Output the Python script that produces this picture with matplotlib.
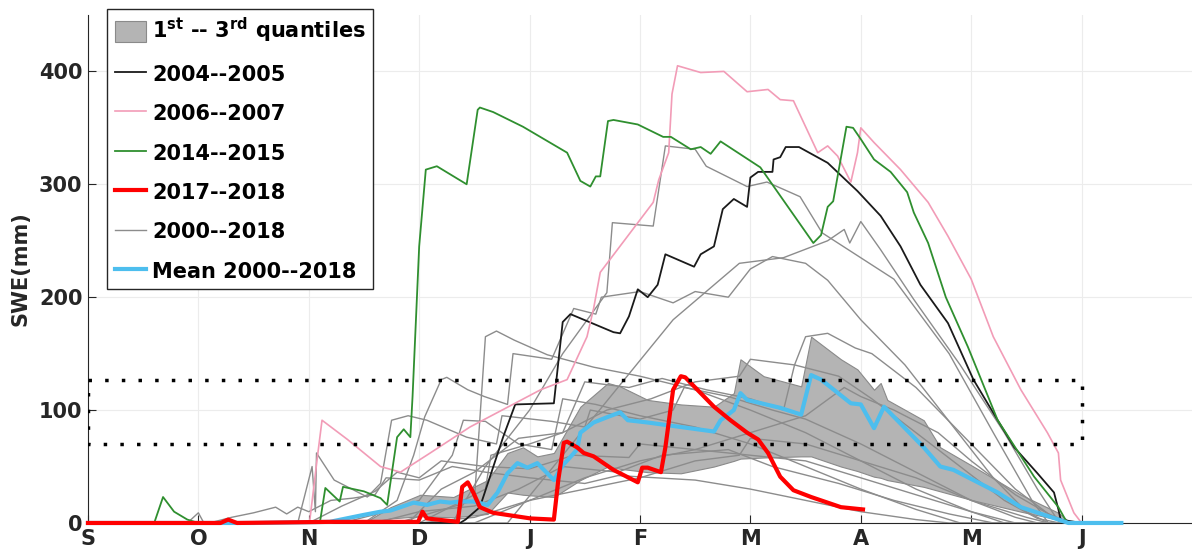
#!/usr/bin/env python3
# -*- coding: utf-8 -*-

import matplotlib
matplotlib.use('Agg')
import matplotlib.pyplot as plt
from matplotlib.patches import Patch
from matplotlib.lines import Line2D

# x axis : months from 1 September (0 = S, 1 = O, ...)
month_lbl = ['S', 'O', 'N', 'D', 'J', 'F', 'M', 'A', 'M', 'J']
swe_ticks = [0, 100, 200, 300, 400]

# 2004--2005
y0405_x = [0, 3.37, 3.42, 3.55, 3.76, 3.87, 4.22, 4.30, 4.37, 4.76, 4.82, 4.90, 4.98, 5.07, 5.16, 5.23, 5.49, 5.55,
		   5.67, 5.75, 5.85, 5.97, 6.00, 6.07, 6.20, 6.21, 6.27, 6.32, 6.44, 6.70, 6.97, 7.18, 7.36, 7.54, 7.79, 8.02,
		   8.24, 8.39, 8.60, 8.75, 8.79, 8.81, 9.0]
y0405_v = [0, 0, 3, 14, 76, 105, 106, 178, 185, 169, 168, 183, 207, 200, 211, 238, 227, 238,
		   245, 278, 287, 280, 306, 311, 311, 322, 324, 333, 333, 319, 294, 272, 245, 211, 177, 127,
		   91, 67, 44, 27, 12, 3, 0]

# 2006--2007
y0607_x = [0, 2.0, 2.01, 2.08, 2.12, 2.35, 2.65, 2.83, 3.10, 3.46, 4.10, 4.34, 4.52, 4.58, 4.64, 5.12, 5.17, 5.26,
		   5.29, 5.34, 5.55, 5.76, 5.97, 6.16, 6.27, 6.39, 6.61, 6.70, 6.79, 6.91, 6.97, 7.00, 7.12, 7.36, 7.61, 7.79,
		   8.00, 8.20, 8.45, 8.69, 8.79, 8.81, 8.93, 9.0]
y0607_v = [0, 0, 3, 60, 91, 74, 50, 45, 62, 85, 118, 127, 165, 190, 222, 284, 304, 328,
		   380, 405, 399, 400, 382, 384, 375, 374, 328, 334, 325, 302, 328, 350, 337, 313, 284, 254,
		   216, 165, 118, 80, 62, 38, 9, 0]

# 2014--2015
y1415_x = [0, 0.6, 0.68, 0.78, 0.9, 1.0, 2.1, 2.15, 2.28, 2.31, 2.5, 2.65, 2.71, 2.80, 2.86, 2.92, 2.94, 3.0, 3.06,
		   3.16, 3.43, 3.53, 3.55, 3.67, 3.94, 4.34, 4.46, 4.55, 4.60, 4.64, 4.71, 4.76, 4.98, 5.21, 5.28, 5.46, 5.55,
		   5.64, 5.73, 6.09, 6.57, 6.64, 6.70, 6.75, 6.87, 6.93, 7.00, 7.12, 7.27, 7.42, 7.48, 7.61, 7.77, 7.97, 8.24,
		   8.57, 8.79, 8.87, 9.0]
y1415_v = [0, 0, 23, 10, 3, 0, 0, 31, 19, 32, 28, 22, 16, 76, 83, 76, 112, 245, 313,
		   316, 300, 366, 368, 364, 351, 328, 303, 298, 307, 307, 356, 357, 353, 342, 342, 331, 333,
		   327, 338, 315, 248, 255, 280, 285, 351, 350, 340, 322, 311, 293, 275, 248, 200, 156, 91,
		   41, 14, 0, 0]

# 2017--2018
y1718_x = [0, 1.2, 1.27, 1.35, 2.2, 2.99, 3.03, 3.07, 3.35, 3.39, 3.44, 3.49, 3.55, 3.67, 4.01, 4.22, 4.26, 4.31,
		   4.34, 4.43, 4.49, 4.58, 4.76, 4.98, 5.02, 5.07, 5.19, 5.23, 5.30, 5.37, 5.41, 5.67, 5.82, 5.97, 6.07, 6.16,
		   6.27, 6.39, 6.55, 6.82, 7.02]
y1718_v = [0, 0, 3, 0, 1, 1, 10, 4, 1, 32, 36, 27, 14, 9, 4, 3, 38, 71,
		   72, 67, 62, 59, 47, 36, 49, 49, 45, 67, 118, 130, 129, 103, 91, 80, 74, 62,
		   41, 29, 23, 14, 12]

# mean 2000--2018
mean_x = [0, 1.5, 2.19, 2.49, 2.65, 2.74, 2.95, 3.07, 3.19, 3.28, 3.37, 3.49, 3.62, 3.71, 3.80, 3.89, 3.98, 4.07,
		  4.22, 4.30, 4.43, 4.46, 4.58, 4.71, 4.82, 4.89, 5.07, 5.37, 5.67, 5.73, 5.85, 5.91, 5.97, 6.27, 6.46, 6.55,
		  6.64, 6.91, 7.00, 7.12, 7.21, 7.33, 7.57, 7.72, 7.84, 8.02, 8.24, 8.45, 8.79, 8.88, 9.36]
mean_v = [0, 0, 1, 7, 10, 11, 18, 16, 19, 18, 19, 19, 16, 27, 44, 53, 49, 53,
		  38, 51, 65, 80, 89, 94, 98, 91, 89, 85, 81, 91, 100, 115, 109, 102, 96, 131,
		  127, 106, 105, 84, 103, 91, 67, 50, 47, 38, 27, 14, 3, 0, 0]

# 1st -- 3rd quantiles
q_x = [2.5, 2.74, 3.01, 3.31, 3.62, 3.80, 3.94, 4.07, 4.22, 4.46, 4.71, 4.82, 5.07, 5.37, 5.67, 5.85, 5.91, 6.12,
	   6.46, 6.55, 6.82, 6.97, 7.12, 7.18, 7.24, 7.57, 7.72, 8.02, 8.45, 8.79, 8.9]
q_lo = [0, 4, 6, 5, 8, 27, 25, 24, 23, 38, 50, 48, 45, 44, 50, 55, 57, 58,
		59, 59, 50, 46, 41, 40, 38, 32, 28, 20, 10, 3, 0]
q_hi = [0, 14, 25, 23, 38, 62, 67, 59, 62, 103, 124, 121, 109, 105, 103, 115, 145, 130,
		121, 165, 145, 136, 118, 124, 109, 91, 67, 50, 25, 9, 0]

# other years 2000--2018 (gray)
gray_x = [
	[0, 3.3, 3.6, 4.0, 4.3, 4.7, 4.75, 5.12, 5.23, 5.5, 5.6, 5.97, 6.15, 6.45, 6.65, 7.3, 7.8, 8.2, 8.55, 8.7, 9.0],
	[0, 3.8, 4.3, 4.8, 5.3, 5.9, 6.3, 6.7, 6.85, 6.9, 7.0, 7.18, 7.48, 7.9, 8.3, 8.6, 8.8, 9.0],
	[0, 2.8, 3.5, 3.6, 3.7, 3.86, 4.16, 4.58, 5.0, 5.5, 6.0, 6.5, 7.0, 7.5, 8.0, 8.3, 9.0],
	[0, 2.5, 2.8, 2.95, 3.05, 3.2, 3.25, 3.44, 3.59, 3.8, 3.85, 4.2, 4.4, 4.6, 4.65, 5.0, 5.3, 5.5, 5.8, 6.0, 6.2,
	 6.5, 6.7, 7.0, 7.4, 7.8, 8.2, 8.5, 8.7, 9.0],
	[0, 1.9, 2.03, 2.06, 2.07, 2.23, 2.53, 2.65, 2.75, 2.9, 3.07, 3.43, 3.7, 3.75, 4.2, 4.5, 4.55, 5.0, 5.3, 5.4,
	 5.8, 6.2, 6.5, 7.0, 7.5, 8.0, 8.4, 8.6, 9.0],
	[0, 3.0, 3.3, 3.6, 3.65, 4.0, 4.3, 4.7, 5.1, 5.5, 5.9, 6.0, 6.4, 6.5, 6.7, 6.95, 7.1, 7.5, 7.8, 8.1, 8.4, 8.7,
	 8.85, 9.0],
	[0, 3.0, 3.5, 4.0, 4.5, 5.0, 5.5, 5.9, 6.0, 6.5, 7.0, 7.5, 8.0, 8.5, 8.7, 9.0],
	[0, 2.6, 3.0, 3.5, 3.9, 4.3, 4.8, 5.2, 5.8, 6.2, 6.8, 7.3, 7.8, 8.2, 9.0],
	[0, 0.9, 1.0, 1.05, 1.1, 1.3, 1.5, 1.7, 1.8, 1.9, 2.0, 2.2, 2.4, 2.6, 2.7, 3.0, 3.3, 3.6, 4.0, 4.5, 4.8, 5.5,
	 6.0, 6.5, 7.0, 7.5, 7.8, 9.0],
	[0, 2.3, 2.7, 3.0, 3.3, 3.4, 3.6, 3.9, 4.2, 4.3, 4.6, 5.0, 5.5, 6.0, 6.5, 7.0, 7.5, 7.9, 9.0],
	[0, 3.5, 4.0, 4.5, 5.0, 5.5, 6.0, 6.5, 6.85, 7.0, 7.3, 7.7, 8.0, 8.4, 8.7, 8.9, 9.0],
	[0, 2.9, 3.2, 3.5, 3.9, 4.3, 4.5, 4.9, 5.2, 5.6, 6.0, 6.3, 6.4, 6.8, 7.1, 7.5, 7.9, 8.3, 8.6, 8.8, 9.0],
	[0, 2.0, 2.3, 2.6, 2.8, 3.0, 3.2, 3.6, 4.0, 4.4, 4.9, 5.0, 5.5, 6.0, 6.5, 7.0, 7.5, 8.0, 8.4, 9.0],
]
gray_v = [
	[0, 0, 50, 100, 150, 204, 266, 263, 334, 331, 316, 298, 302, 289, 257, 216, 150, 80, 20, 0, 0],
	[0, 0, 60, 120, 180, 230, 235, 250, 260, 248, 267, 242, 198, 140, 80, 30, 0, 0],
	[0, 0, 20, 165, 170, 162, 149, 138, 130, 118, 100, 80, 55, 30, 10, 0, 0],
	[0, 0, 20, 60, 94, 127, 129, 118, 112, 105, 150, 145, 190, 185, 200, 205, 195, 205, 200, 225, 236,
	 230, 215, 180, 140, 90, 40, 10, 0, 0],
	[0, 0, 50, 10, 62, 38, 23, 35, 91, 95, 91, 76, 70, 95, 90, 85, 100, 92, 100, 120,
	 112, 100, 92, 70, 45, 20, 5, 0, 0],
	[0, 0, 15, 30, 60, 70, 80, 100, 110, 125, 130, 145, 140, 165, 168, 155, 150, 120, 90, 60, 30, 8,
	 0, 0],
	[0, 0, 5, 20, 30, 40, 55, 60, 75, 70, 55, 40, 20, 5, 0, 0],
	[0, 0, 10, 15, 30, 50, 45, 60, 65, 50, 35, 20, 8, 0, 0],
	[0, 0, 9, 0, 0, 5, 9, 14, 8, 14, 10, 20, 22, 25, 40, 38, 50, 45, 40, 35, 42, 38,
	 30, 20, 10, 3, 0, 0],
	[0, 0, 10, 20, 60, 91, 90, 70, 65, 110, 105, 95, 85, 70, 50, 30, 12, 0, 0],
	[0, 0, 20, 40, 55, 65, 80, 95, 120, 112, 100, 80, 55, 25, 8, 0, 0],
	[0, 0, 30, 45, 75, 80, 125, 120, 128, 118, 110, 100, 140, 130, 110, 80, 50, 20, 4, 0, 0],
	[0, 0, 15, 28, 45, 40, 55, 50, 48, 60, 58, 70, 65, 60, 55, 40, 25, 10, 0, 0],
]

# seuil (dotted box)
box_x = [0, 9, 9, 0, 0]
box_v = [127, 127, 70, 70, 127]

C_GRAY = '#8c8c8c'
C_PINK = '#f29cb7'
C_GREEN = '#2f8f2f'
C_BLACK = '#1a1a1a'
C_RED = '#ff0000'
C_MEAN = '#4dbeee'


def main():
	plt.rcParams['font.family'] = ['DejaVu Sans']
	plt.rcParams['font.weight'] = 'bold'

	fig = plt.figure(figsize=(11.92, 5.56), dpi=100)
	ax1 = fig.add_axes([0.0738, 0.0594, 0.9262, 0.9137])

	ax1.fill_between(q_x, q_lo, q_hi, facecolor='#b4b4b4', edgecolor='#8a8a8a', lw=0.8, zorder=2)
	for gx, gv in zip(gray_x, gray_v):
		ax1.plot(gx, gv, color=C_GRAY, lw=1.0, zorder=3)

	ax1.plot(y0405_x, y0405_v, color=C_BLACK, lw=1.3, zorder=4)
	ax1.plot(y0607_x, y0607_v, color=C_PINK, lw=1.2, zorder=4)
	ax1.plot(y1415_x, y1415_v, color=C_GREEN, lw=1.3, zorder=4)
	ax1.plot(mean_x, mean_v, color=C_MEAN, lw=3.0, zorder=5, clip_on=False)
	ax1.plot(y1718_x, y1718_v, color=C_RED, lw=3.0, zorder=6, clip_on=False)

	ax1.plot(box_x, box_v, color='k', lw=2.5, linestyle=(0, (1, 3.8)), zorder=7)

	ax1.set_xlim(0, 10)
	ax1.set_ylim(0, 450)
	ax1.set_xticks(range(len(month_lbl)))
	ax1.set_xticklabels(month_lbl)
	ax1.set_yticks(swe_ticks)
	ax1.tick_params(direction='in', length=6, width=0.8, labelsize=15, colors='#262626', pad=4)
	for lab in ax1.get_xticklabels() + ax1.get_yticklabels():
		lab.set_fontweight('bold')
	ax1.spines['top'].set_visible(False)
	ax1.spines['right'].set_visible(False)
	ax1.spines['left'].set_color('#262626')
	ax1.spines['bottom'].set_color('#262626')
	ax1.grid(True, color='#ececec', lw=0.8, zorder=0)
	ax1.set_axisbelow(True)
	ax1.set_ylabel('SWE(mm)', fontsize=15, fontweight='bold', color='#262626', labelpad=6)

	handles = [
		Patch(facecolor='#b4b4b4', edgecolor='#8a8a8a', lw=0.8),
		Line2D([], [], color=C_BLACK, lw=1.3),
		Line2D([], [], color=C_PINK, lw=1.2),
		Line2D([], [], color=C_GREEN, lw=1.3),
		Line2D([], [], color=C_RED, lw=3.0),
		Line2D([], [], color=C_GRAY, lw=1.0),
		Line2D([], [], color=C_MEAN, lw=3.0),
	]
	labels = [r'1$^{\mathbf{st}}$ -- 3$^{\mathbf{rd}}$ quantiles', '2004--2005', '2006--2007', '2014--2015',
			  '2017--2018', '2000--2018', 'Mean 2000--2018']
	leg = ax1.legend(handles, labels, loc='upper left', bbox_to_anchor=(0.0175, 1.012),
					 prop={'weight': 'bold', 'size': 15}, frameon=True, fancybox=False, edgecolor='#262626',
					 framealpha=1.0, handlelength=1.5, handleheight=1.2, handletextpad=0.3, labelspacing=0.85,
					 borderpad=0.35, borderaxespad=0.0)
	leg.get_frame().set_linewidth(1.0)
	leg.set_zorder(10)

	fig.savefig('out.png', dpi=100)


if __name__ == '__main__':
	main()

### EOF ###
